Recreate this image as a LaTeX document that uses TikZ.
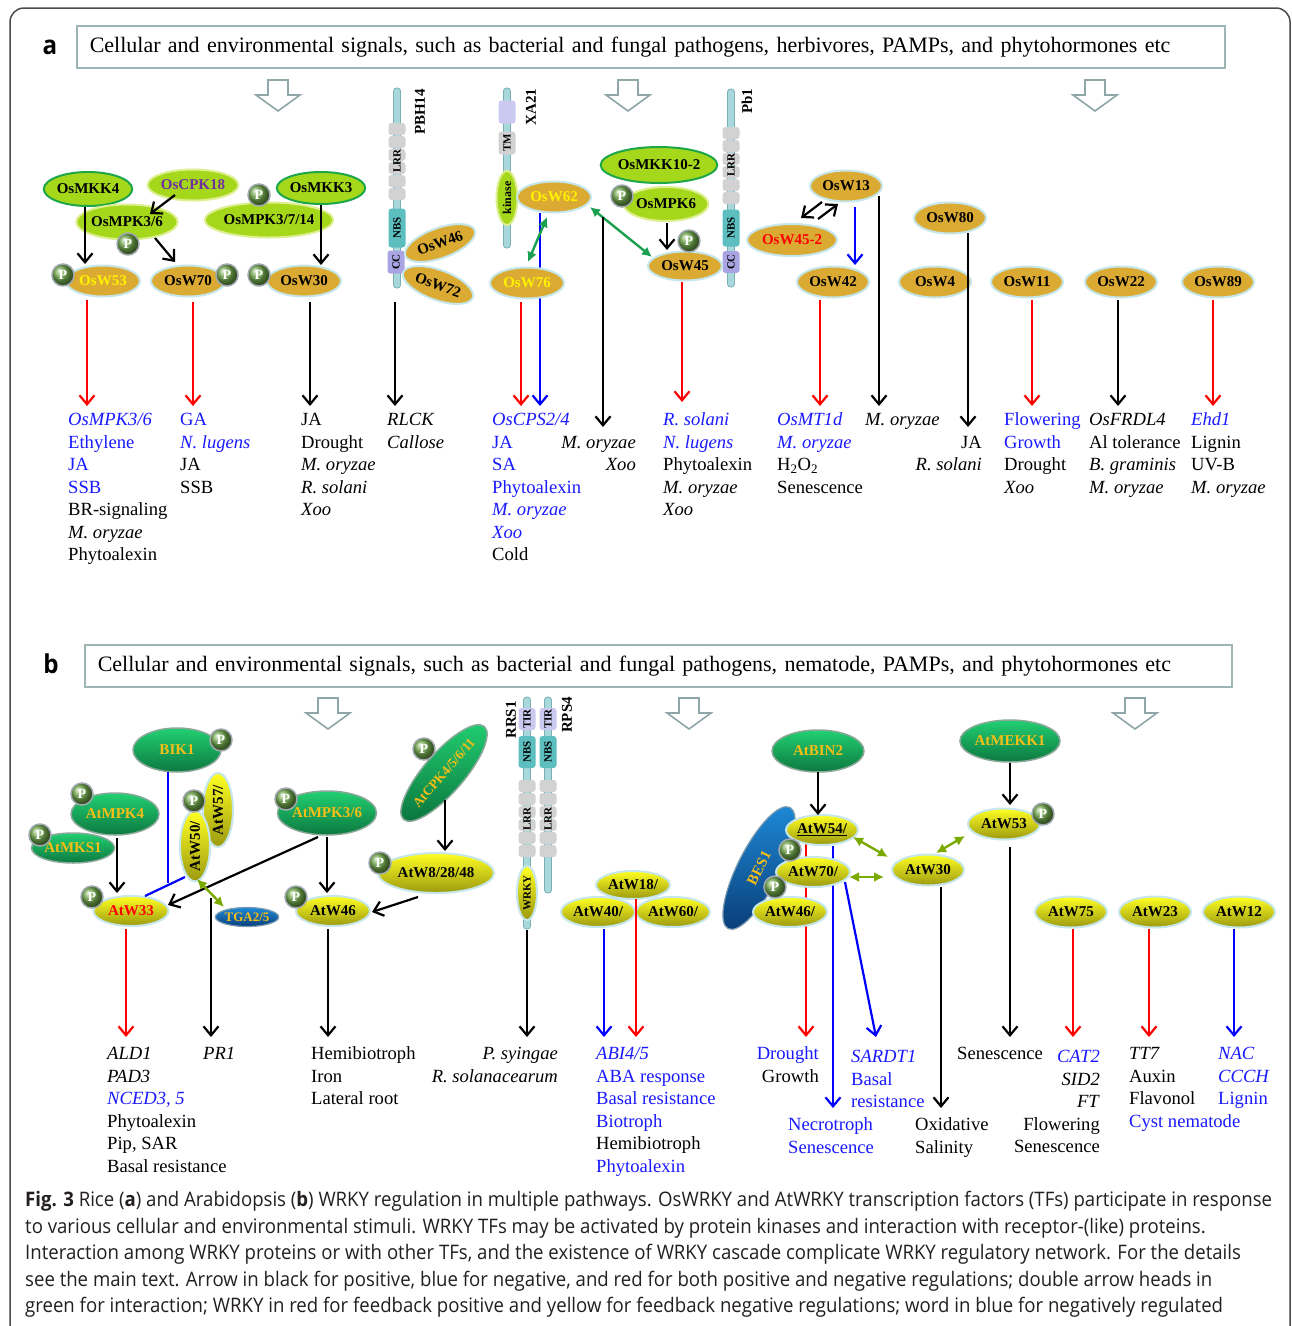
\documentclass[tikz,border=0pt]{standalone}
\usepackage{fontspec}
\setmainfont{Liberation Serif}
\newfontfamily\capfam[FakeStretch=0.93]{Open Sans}
\usetikzlibrary{shapes.geometric,arrows.meta,calc,backgrounds}
\usepackage{xcolor}
\definecolor{worange}{HTML}{DBAA33}
\definecolor{rimcyan}{HTML}{C5E6EA}
\definecolor{klime}{HTML}{A5D81A}
\definecolor{klimerim}{HTML}{DDEF90}
\definecolor{kgreen}{HTML}{1EA64A}
\definecolor{pgreen}{HTML}{6FA64A}
\definecolor{pgray}{HTML}{A0A8B0}
\definecolor{ytop}{HTML}{FFFF22}
\definecolor{ybot}{HTML}{9C9A10}
\definecolor{gtop}{HTML}{22D072}
\definecolor{gbot}{HTML}{0C7840}
\definecolor{grim}{HTML}{8AA898}
\definecolor{btop}{HTML}{1E8AD8}
\definecolor{bbot}{HTML}{0A3F7A}
\definecolor{brim}{HTML}{7A9AB0}
\definecolor{korange}{HTML}{F7BE16}
\definecolor{rodfill}{HTML}{A9D8DC}
\definecolor{roddraw}{HTML}{78AEB4}
\definecolor{lrrgray}{HTML}{D2D2D2}
\definecolor{nbsteal}{HTML}{5DBEC0}
\definecolor{cclav}{HTML}{A9A4E2}
\definecolor{tirlav}{HTML}{CBC9F0}
\definecolor{bangray}{HTML}{9DB5B5}
\definecolor{arrgray}{HTML}{8EA6A8}
\definecolor{framegray}{HTML}{4A4A4A}
\definecolor{ablue}{HTML}{0000FF}
\definecolor{ared}{HTML}{FF0000}
\definecolor{tblue}{HTML}{1A1AFF}
\definecolor{igreen}{HTML}{1AA050}
\definecolor{igreenb}{HTML}{7AAA00}
\definecolor{capgray}{HTML}{231F20}
\definecolor{cpkpurple}{HTML}{7030A0}

\newcommand\fnNode{\fontsize{15}{15}\selectfont\bfseries}
\newcommand\fnP{\fontsize{14}{14}\selectfont\bfseries}
\newcommand\fnDom{\fontsize{11}{11}\selectfont\bfseries}
\newcommand\fnRec{\fontsize{15}{15}\selectfont\bfseries}
\newcommand\fnLab{\fontsize{18.6}{22.5}\selectfont}
\newcommand\fnBan{\fontsize{22}{24}\selectfont}
\newcommand\fnCap{\capfam\fontsize{20}{26.5}\selectfont}
\newcommand\fnTag{\capfam\fontsize{26}{26}\selectfont\bfseries}
\newcommand\nreg[1]{\textcolor{tblue}{#1}}

\begin{document}
\begin{tikzpicture}[x=1pt, y=-1pt,
  every node/.style={inner sep=0pt},
  hollow/.style={draw=arrgray, line width=1.6pt, fill=white},
  banner/.style={draw=bangray, line width=1.5pt, anchor=west, inner xsep=13pt, minimum height=42pt, align=left, font=\fnBan},
  owrky/.style={ellipse, fill=worange, draw=rimcyan, line width=2pt, minimum width=74pt, minimum height=31pt, font=\fnNode},
  limek/.style={ellipse, fill=klime, draw=klimerim, line width=2pt, minimum width=86pt, minimum height=34pt, font=\fnNode},
  limekg/.style={limek, draw=kgreen},
  pball/.style={circle, ball color=pgreen, draw=pgray, line width=1.5pt, minimum size=22pt, text=white, font=\fnP},
  ywrky/.style={ellipse, top color=ytop, bottom color=ybot, draw=rimcyan, line width=2pt, minimum width=74pt, minimum height=30pt, font=\fnNode},
  dgk/.style={ellipse, top color=gtop, bottom color=gbot, draw=grim, line width=1.5pt, minimum width=88pt, minimum height=43pt, text=korange, font=\fnNode},
  bluek/.style={ellipse, top color=btop, bottom color=bbot, draw=brim, line width=1.2pt, text=korange, font=\fnNode},
  rod/.style={rectangle, rounded corners=3pt, rotate=90, minimum height=7pt, fill=rodfill, draw=roddraw, line width=0.8pt},
  lrrseg/.style={rectangle, rounded corners=3pt, minimum width=17pt, minimum height=12pt, fill=lrrgray},
  dom/.style={rectangle, rounded corners=3pt, rotate=90, minimum height=17pt, font=\fnDom},
  dlab/.style={rotate=90, font=\fnDom},
  rlab/.style={rotate=90, font=\fnRec},
  bare/.style={line width=2.2pt},
  act/.style={line width=2.2pt, -{Straight Barb[length=9pt,width=15pt]}},
  actb/.style={act, draw=ablue},
  actr/.style={act, draw=ared},
  interg/.style={line width=2.4pt, draw=igreen, fill=igreen, {Latex[length=10pt,width=10pt]}-{Latex[length=10pt,width=10pt]}},
  intery/.style={interg, draw=igreenb, fill=igreenb},
  lblcol/.style={anchor=north west, align=left, font=\fnLab},
  lblcolr/.style={anchor=north east, align=right, font=\fnLab}]
\useasboundingbox (0,0) rectangle (1292,1326);
\begin{scope}[on background layer]
  \fill[white] (0,0) rectangle (1292,1326);
\end{scope}

% Frame
\draw[framegray, line width=1.5pt, rounded corners=14pt] (10,1326) -- (10,8) -- (1290,8) -- (1290,1326);

% ---------------- Panel a ----------------
\node[font=\fnTag] (taga) at (50,47) {a};
\node[banner, text width=1122pt] (bana) at (76,47) {Cellular and environmental signals, such as bacterial and fungal pathogens, herbivores, PAMPs, and phytohormones etc};
\foreach \ax in {278,628,1095}
  \draw[hollow, shift={(\ax,80)}] (-10,0) -- (10,0) -- (10,15) -- (22,15) -- (0,31) -- (-22,15) -- (-10,15) -- cycle;

% Receptors
\node[rod, minimum width=200pt] (pbh14) at (397,188) {};
\foreach \ly in {129,142,155,168,181,194} \node[lrrseg] at (397,\ly) {};
\node[dlab] at (397,161) {LRR};
\node[dom, fill=nbsteal, minimum width=39pt] (pbhnbs) at (397,228) {NBS};
\node[dom, fill=cclav, minimum width=23pt] (pbhcc) at (396,262) {CC};
\node[rlab] (pbhlab) at (420,112) {PBH14};

\node[rod, minimum width=160pt] (xa21) at (507,168) {};
\node[dom, fill=tirlav, minimum width=23pt] (xatop) at (507,112) {};
\node[dom, fill=lrrgray, minimum width=23pt] (xatm) at (507,143) {TM};
\node[limek, rotate=90, minimum width=54pt, minimum height=21pt, font=\fontsize{12}{12}\selectfont\bfseries] (xakin) at (507,198) {kinase};
\node[rlab] (xalab) at (531,107) {XA21};

\node[rod, minimum width=198pt] (pb1) at (731,188) {};
\foreach \ly in {133,146,159,172,185,198} \node[lrrseg] at (731,\ly) {};
\node[dlab] at (731,165) {LRR};
\node[dom, fill=nbsteal, minimum width=37pt] (pbnbs) at (731,228) {NBS};
\node[dom, fill=cclav, minimum width=22pt] (pbcc) at (731,262) {CC};
\node[rlab] (pblab) at (747,101) {Pb1};

% Kinases
\node[limekg, minimum width=88pt] (mkk4) at (88,189) {OsMKK4};
\node[limek, text=cpkpurple, minimum height=31pt] (cpk18) at (193,185) {OsCPK18};
\node[limek, minimum width=80pt, minimum height=35pt] (mpk36) at (127,222) {OsMPK3/6};
\node[limek, minimum width=108pt, minimum height=35pt] (mpk3714) at (269,220) {OsMPK3/7/14};
\node[limekg, minimum width=88pt, minimum height=32pt] (mkk3) at (321,188) {OsMKK3};
\node[limekg, minimum width=88pt, minimum height=36pt] (mkk102) at (659,165) {OsMKK10-2};
\node[limek, minimum width=80pt] (mpk6) at (666,204) {OsMPK6};

% WRKYs
\node[owrky, text=yellow] (w53) at (103,281) {OsW53};
\node[owrky] (w70) at (188,281) {OsW70};
\node[owrky] (w30) at (304,281) {OsW30};
\node[owrky, rotate=20, minimum height=30pt] (w46) at (440,243) {OsW46};
\node[owrky, rotate=-20, minimum height=30pt] (w72) at (438,285) {OsW72};
\node[owrky, text=yellow] (w62) at (554,197) {OsW62};
\node[owrky, text=yellow] (w76) at (527,283) {OsW76};
\node[owrky, minimum height=29pt] (w45) at (685,266) {OsW45};
\node[owrky, minimum width=72pt] (w13) at (846,186) {OsW13};
\node[owrky, text=red, minimum width=90pt, minimum height=32pt] (w452) at (792,240) {OsW45-2};
\node[owrky, minimum width=72pt] (w42) at (833,282) {OsW42};
\node[owrky, minimum width=72pt] (w80) at (950,218) {OsW80};
\node[owrky, minimum width=72pt] (w4) at (935,282) {OsW4};
\node[owrky, minimum width=72pt] (w11) at (1027,282) {OsW11};
\node[owrky, minimum width=72pt] (w22) at (1121,282) {OsW22};
\node[owrky, minimum width=72pt] (w89) at (1218,282) {OsW89};

% Phosphates
\node[pball] (pa1) at (128,244) {P};
\node[pball] (pa2) at (259,195) {P};
\node[pball] (pa3) at (63,275) {P};
\node[pball] (pa4) at (227,275) {P};
\node[pball] (pa5) at (259,275) {P};
\node[pball] (pa6) at (622,196) {P};
\node[pball] (pa7) at (689,241) {P};

% Targets
\node[lblcol] (ta1) at (68,410) {\strut\nreg{\textit{OsMPK3/6}}\\ \nreg{Ethylene}\\ \nreg{JA}\\ \nreg{SSB}\\ BR-signaling\\ \textit{M. oryzae}\\ Phytoalexin};
\node[lblcol] (ta2) at (180,410) {\strut\nreg{GA}\\ \nreg{\textit{N. lugens}}\\ JA\\ SSB};
\node[lblcol] (ta3) at (301,410) {\strut JA\\ Drought\\ \textit{M. oryzae}\\ \textit{R. solani}\\ \textit{Xoo}};
\node[lblcol] (ta4) at (387,410) {\strut\textit{RLCK}\\ \textit{Callose}};
\node[lblcol] (ta5) at (492,410) {\strut\nreg{\textit{OsCPS2/4}}\\ \nreg{JA}\\ \nreg{SA}\\ \nreg{Phytoalexin}\\ \nreg{\textit{M. oryzae}}\\ \nreg{\textit{Xoo}}\\ Cold};
\node[lblcolr] (ta6) at (636,432.5) {\strut\textit{M. oryzae}\\ \textit{Xoo}};
\node[lblcol] (ta7) at (663,410) {\strut\nreg{\textit{R. solani}}\\ \nreg{\textit{N. lugens}}\\ Phytoalexin\\ \textit{M. oryzae}\\ \textit{Xoo}};
\node[lblcol] (ta8) at (777,410) {\strut\nreg{\textit{OsMT1d}}\\ \nreg{\textit{M. oryzae}}\\ H\textsubscript{2}O\textsubscript{2}\\ Senescence};
\node[lblcol] (ta9) at (865,410) {\strut\textit{M. oryzae}};
\node[lblcolr] (ta10) at (982,432.5) {\strut JA\\ \textit{R. solani}};
\node[lblcol] (ta11) at (1004,410) {\strut\nreg{Flowering}\\ \nreg{Growth}\\ Drought\\ \textit{Xoo}};
\node[lblcol] (ta12) at (1089,410) {\strut\textit{OsFRDL4}\\ Al tolerance\\ \textit{B. graminis}\\ \textit{M. oryzae}};
\node[lblcol] (ta13) at (1191,410) {\strut\nreg{\textit{Ehd1}}\\ Lignin\\ UV-B\\ \textit{M. oryzae}};

% Connectors a
\begin{scope}[on background layer]
  \draw[bare] (mkk4) -- (mpk36);
  \draw[actb] ($(w62)+(-14,16)$) -- ($(ta5.north west)+(48,-4)$);
\end{scope}
\draw[act] ($(mkk4)+(-3,18)$) -- ($(w53)+(-18,-17)$);
\draw[act] ($(cpk18)+(-18,10)$) -- ($(mpk36)+(23,-8)$);
\draw[act] ($(mpk36)+(28,16)$) -- ($(w70)+(-13,-19)$);
\draw[act] ($(mkk3)+(0,17)$) -- ($(w30)+(17,-16)$);
\draw[act] ($(mpk6)+(1,19)$) -- ($(w45)+(-18,-16)$);
\draw[interg] ($(w62)+(-7,20)$) -- ($(w76)+(1,-21)$);
\draw[interg] ($(w62)+(36,10)$) -- ($(w45)+(-33,-9)$);
\draw[act] ($(w13)+(-24,16)$) -- ($(w452)+(9,-22)$);
\draw[act] ($(w452)+(26,-21)$) -- ($(w13)+(-8,18)$);
\draw[actb] ($(w13)+(9,21)$) -- ($(w42)+(22,-17)$);

\draw[actr] ($(w53)+(-16,19)$) -- ($(ta1.north west)+(19,-4)$);
\draw[actr] ($(w70)+(5,21)$) -- ($(ta2.north west)+(13,-4)$);
\draw[act] ($(w30)+(6,21)$) -- ($(ta3.north west)+(9,-4)$);
\draw[act] ($(pbh14)+(-2,114)$) -- ($(ta4.north west)+(8,-4)$);
\draw[actr] ($(w76)+(-6,19)$) -- ($(ta5.north west)+(29,-4)$);
\draw[act] ($(w62)+(49,20)$) -- ($(ta6.north east)+(-33,-5.5)$);
\draw[actr] ($(w45)+(-3,16)$) -- ($(ta7.north west)+(19,-8)$);
\draw[actr] ($(w42)+(-13,18)$) -- ($(ta8.north west)+(43,-4)$);
\draw[act] ($(w13)+(33,10)$) -- ($(ta9.north west)+(14,-4)$);
\draw[act] ($(w80)+(18,15)$) -- ($(ta10.north east)+(-14,-5.5)$);
\draw[actr] ($(w11)+(5,18)$) -- ($(ta11.north west)+(28,-4)$);
\draw[act] ($(w22)+(-3,18)$) -- ($(ta12.north west)+(29,-4)$);
\draw[actr] ($(w89)+(-5,18)$) -- ($(ta13.north west)+(22,-4)$);

% ---------------- Panel b ----------------
\node[font=\fnTag] (tagb) at (51,664) {b};
\node[banner, text width=1121pt] (banb) at (84,666) {Cellular and environmental signals, such as bacterial and fungal pathogens, nematode, PAMPs, and phytohormones etc};
\foreach \ax in {328,689,1135}
  \draw[hollow, shift={(\ax,698)}] (-10,0) -- (10,0) -- (10,15) -- (22,15) -- (0,31) -- (-22,15) -- (-10,15) -- cycle;

% Receptors
\node[rod, minimum width=232pt] (rrs1) at (527,813) {};
\node[rod, minimum width=196pt] (rps4) at (548,795) {};
\foreach \rx in {527,548} {
  \node[dom, fill=tirlav, minimum width=22pt] at (\rx,719) {TIR};
  \node[dom, fill=nbsteal, minimum width=32pt] at (\rx,752) {NBS};
  \foreach \ly in {786,799,812,825,838,851} \node[lrrseg] at (\rx,\ly) {};
  \node[dlab] at (\rx,819) {LRR};
}
\node[ywrky, rotate=90, minimum width=54pt, minimum height=20pt, font=\fnDom] (rwrky) at (527,893) {WRKY};
\node[rlab] (rrslab) at (511,720) {RRS1};
\node[rlab] (rpslab) at (567,715) {RPS4};

% Kinases and partners
\node[dgk, minimum height=44pt] (bik1) at (177,750) {BIK1};
\node[dgk, minimum height=42pt] (mpk4) at (115,814) {AtMPK4};
\node[dgk, minimum width=83pt, minimum height=30pt] (mks1) at (73,848) {AtMKS1};
\node[dgk, minimum height=44pt] (mpk36b) at (327,813) {AtMPK3/6};
\node[dgk, rotate=49, minimum width=114pt, minimum height=40pt, font=\fontsize{13.5}{13.5}\selectfont\bfseries] (cpk) at (444,773) {AtCPK4/5/6/11};
\node[dgk, minimum width=92pt, minimum height=42pt] (bin2) at (818,751) {AtBIN2};
\node[dgk, minimum width=92pt, minimum height=42pt] (mekk1) at (1010,741) {AtMEKK1};
\node[bluek, rotate=63, minimum width=136pt, minimum height=42pt] (bes1) at (759,868) {BES1};
\node[bluek, minimum width=63pt, minimum height=19pt, font=\fontsize{13}{13}\selectfont\bfseries] (tga) at (247,917) {TGA2/5};

% WRKYs
\node[ywrky, rotate=90, minimum width=74pt] (w57) at (218,810) {AtW57/};
\node[ywrky, rotate=90, minimum width=68pt] (w50) at (195,846) {AtW50/};
\node[ywrky, minimum width=116pt, minimum height=40pt] (w82848) at (436,873) {AtW8/28/48};
\node[ywrky, text=red, minimum width=75pt] (w33) at (131,911) {AtW33};
\node[ywrky] (w46b) at (333,911) {AtW46};
\node[ywrky, minimum height=28pt] (w18) at (633,885) {AtW18/};
\node[ywrky] (w40) at (598,912) {AtW40/};
\node[ywrky] (w60) at (673,912) {AtW60/};
\node[ywrky, minimum width=72pt] (w54) at (822,830) {\underline{AtW54/}};
\node[ywrky] (w70b) at (813,872) {AtW70/};
\node[ywrky] (w46c) at (790,912) {AtW46/};
\node[ywrky, minimum width=72pt, minimum height=31pt] (w30b) at (928,870) {AtW30};
\node[ywrky, minimum width=72pt, minimum height=31pt] (w53b) at (1004,824) {AtW53};
\node[ywrky, minimum width=72pt, minimum height=31pt] (w75) at (1071,912) {AtW75};
\node[ywrky, minimum width=72pt, minimum height=31pt] (w23) at (1155,912) {AtW23};
\node[ywrky, minimum width=72pt, minimum height=31pt] (w12) at (1239,912) {AtW12};

% Phosphates
\node[pball] (pb1p) at (221,740) {P};
\node[pball] (pb2p) at (82,794) {P};
\node[pball] (pb3p) at (40,835) {P};
\node[pball] (pb4p) at (194,801) {P};
\node[pball] (pb5p) at (286,799) {P};
\node[pball] (pb6p) at (424,749) {P};
\node[pball] (pb7p) at (380,863) {P};
\node[pball] (pb8p) at (92,897) {P};
\node[pball] (pb9p) at (296,897) {P};
\node[pball] (pb10p) at (790,850) {P};
\node[pball] (pb11p) at (775,887) {P};
\node[pball] (pb12p) at (1043,814) {P};

% Targets
\node[lblcol] (tb1) at (107,1044) {\strut\textit{ALD1}\\ \textit{PAD3}\\ \nreg{\textit{NCED3, 5}}\\ Phytoalexin\\ Pip, SAR\\ Basal resistance};
\node[lblcol] (tb2) at (203,1044) {\strut\textit{PR1}};
\node[lblcol] (tb3) at (311,1044) {\strut Hemibiotroph\\ Iron\\ Lateral root};
\node[lblcolr] (tb4) at (558,1044) {\strut\textit{P. syingae}\\ \textit{R. solanacearum}};
\node[lblcol] (tb5) at (596,1044) {\strut\nreg{\textit{ABI4/5}}\\ \nreg{ABA response}\\ \nreg{Basal resistance}\\ \nreg{Biotroph}\\ Hemibiotroph\\ \nreg{Phytoalexin}};
\node[lblcolr] (tb6) at (819,1044) {\strut\nreg{Drought}\\ Growth};
\node[lblcol] (tb7) at (851,1047) {\strut\nreg{\textit{SARDT1}}\\ \nreg{Basal}\\ \nreg{resistance}};
\node[lblcol] (tb8) at (788,1115) {\strut\nreg{Necrotroph}\\ \nreg{Senescence}};
\node[lblcol] (tb9) at (915,1115) {\strut Oxidative\\ Salinity};
\node[lblcol] (tb10) at (957,1044) {\strut Senescence};
\node[lblcolr] (tb11) at (1100,1047) {\strut\nreg{\textit{CAT2}}\\ \textit{SID2}\\ \textit{FT}\\ Flowering\\ Senescence};
\node[lblcol] (tb12) at (1129,1044) {\strut\textit{TT7}\\ Auxin\\ Flavonol\\ \nreg{Cyst nematode}};
\node[lblcol] (tb13) at (1218,1044) {\strut\nreg{\textit{NAC}}\\ \nreg{\textit{CCCH}}\\ \nreg{Lignin}};

% Connectors b
\begin{scope}[on background layer]
  \draw[actr] ($(w54)+(-16,14)$) -- ($(tb6.north east)+(-13,-7)$);
  \draw[actb] ($(w54)+(11,16)$) -- ($(tb8.north west)+(45,-7)$);
\end{scope}
\draw[act] ($(mpk4)+(2,24)$) -- ($(w33)+(-14,-18)$);
\draw[bare, draw=ablue] ($(bik1)+(-9,22)$) -- ($(w33)+(37,-28)$);
\draw[bare, draw=ablue] ($(w33)+(14,-15)$) -- ($(w50)+(-10,31)$);
\draw[act] ($(mpk36b)+(-9,24)$) -- ($(w33)+(37,-6)$);
\draw[act] ($(mpk36b)+(0,24)$) -- ($(w46b)+(-6,-18)$);
\draw[act] ($(cpk)+(1,27)$) -- ($(w82848)+(9,-22)$);
\draw[act] ($(w82848)+(-18,24)$) -- ($(w46b)+(39,1)$);
\draw[intery] ($(w50)+(2,33)$) -- ($(tga)+(-23,-10)$);
\draw[act] ($(bin2)+(0,21)$) -- ($(w54)+(-4,-15)$);
\draw[intery] ($(w54)+(31,7)$) -- ($(w30b)+(-40,-13)$);
\draw[intery] ($(w70b)+(36,5)$) -- ($(w30b)+(-44,7)$);
\draw[intery] ($(w30b)+(8,-17)$) -- ($(w53b)+(-39,12)$);
\draw[act] ($(mekk1)+(0,22)$) -- ($(w53b)+(6,-19)$);

\draw[act] ($(tga)+(-36,-19)$) -- ($(tb2.north west)+(8,-7)$);
\draw[actr] ($(w33)+(-5,18)$) -- ($(tb1.north west)+(19,-7)$);
\draw[act] ($(w46b)+(-5,18)$) -- ($(tb3.north west)+(17,-7)$);
\draw[act] ($(rrs1)+(0,117)$) -- ($(tb4.north east)+(-31,-7)$);
\draw[actb] ($(w40)+(6,17)$) -- ($(tb5.north west)+(8,-7)$);
\draw[actr] ($(w18)+(3,14)$) -- ($(tb5.north west)+(40,-7)$);
\draw[actb] ($(w70b)+(32,10)$) -- ($(tb7.north west)+(25,-10)$);
\draw[act] ($(w30b)+(13,17)$) -- ($(tb9.north west)+(26,-7)$);
\draw[act] ($(w53b)+(6,23)$) -- ($(tb10.north west)+(53,-7)$);
\draw[actr] ($(w75)+(2,17)$) -- ($(tb11.north east)+(-27,-10)$);
\draw[actr] ($(w23)+(-6,17)$) -- ($(tb12.north west)+(20,-7)$);
\draw[actb] ($(w12)+(-5,17)$) -- ($(tb13.north west)+(16,-7)$);

% Caption
\node[anchor=north west, align=left, font=\fnCap, text=capgray] (cap) at (25,1188) {\strut\textbf{Fig. 3} Rice (\textbf{a}) and Arabidopsis (\textbf{b}) WRKY regulation in multiple pathways. OsWRKY and AtWRKY transcription factors (TFs) participate in response\\
to various cellular and environmental stimuli. WRKY TFs may be activated by protein kinases and interaction with receptor-(like) proteins.\\
Interaction among WRKY proteins or with other TFs, and the existence of WRKY cascade complicate WRKY regulatory network. For the details\\
see the main text. Arrow in black for positive, blue for negative, and red for both positive and negative regulations; double arrow heads in\\
green for interaction; WRKY in red for feedback positive and yellow for feedback negative regulations; word in blue for negatively regulated};
\end{tikzpicture}
\end{document}
